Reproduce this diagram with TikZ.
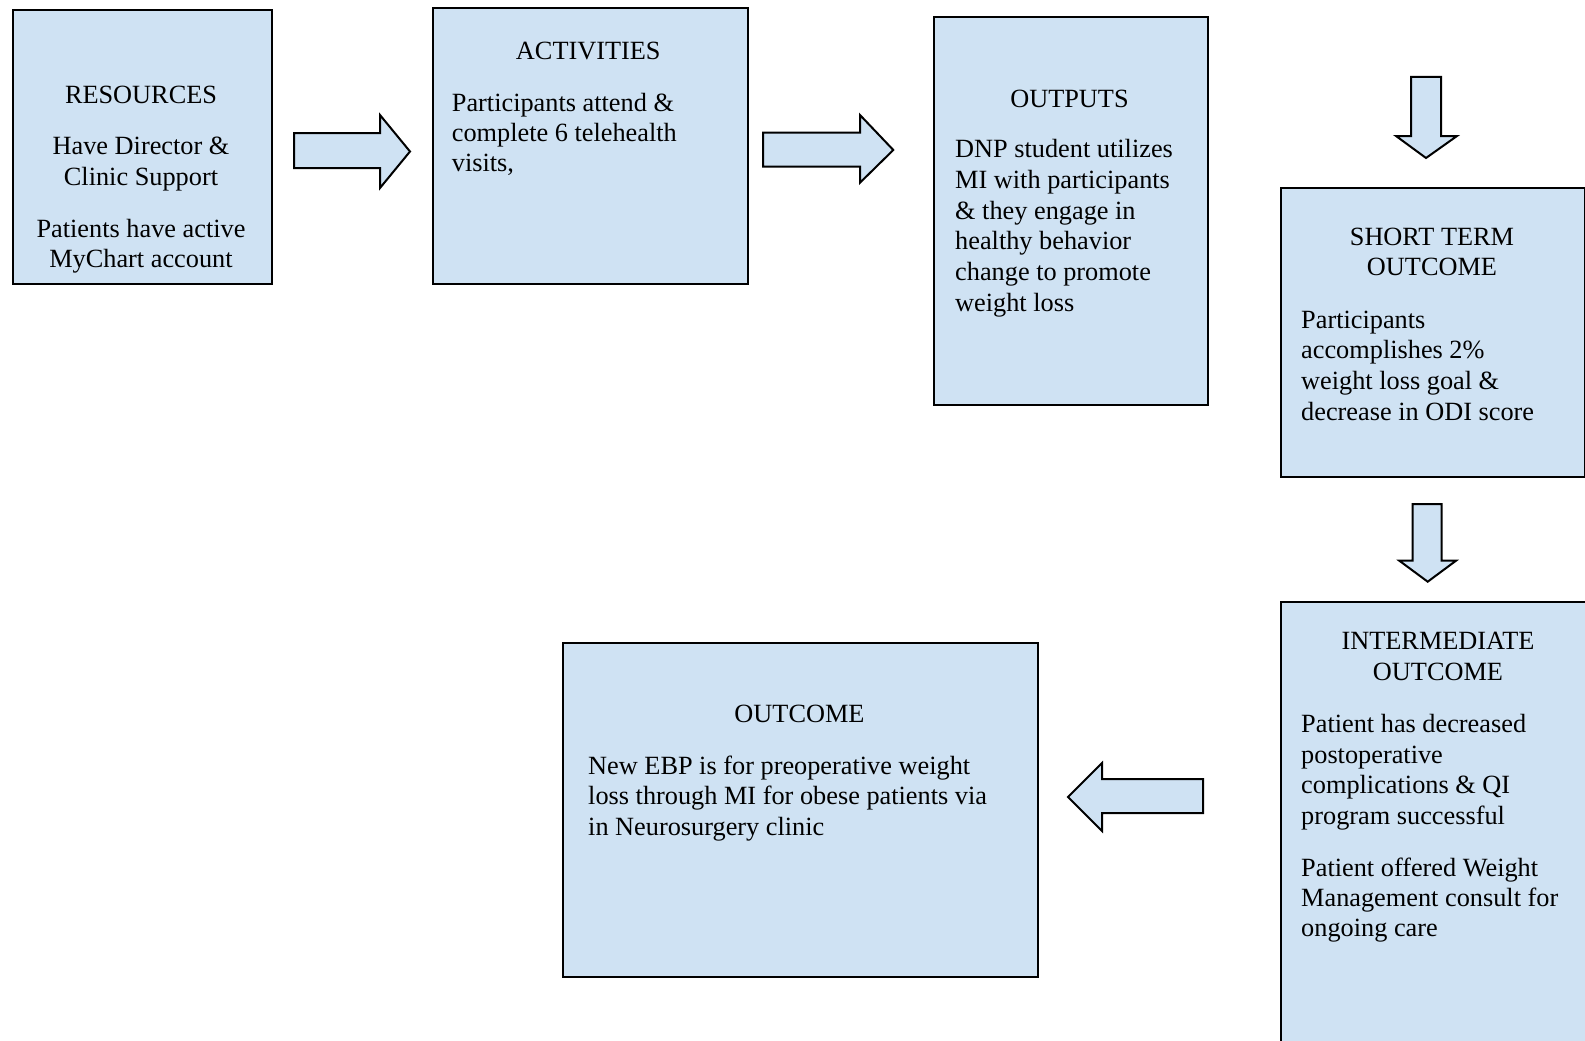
\documentclass[tikz,border=0pt]{standalone}
\usepackage{fontspec}
\setmainfont{Liberation Serif}
\definecolor{boxblue}{RGB}{207,226,243}
\tikzset{
  box/.style={draw=black, line width=2pt, fill=boxblue, inner sep=0pt, anchor=north west},
  blockarrow/.style={draw=black, line width=2pt, fill=boxblue, line join=miter},
  ttl/.style={anchor=base, inner sep=0pt, yshift=-1.2pt, font=\fontsize{26.3}{30.5}\selectfont},
  ln/.style={anchor=base west, inner sep=0pt, yshift=-1.2pt, font=\fontsize{26.3}{30.5}\selectfont},
}
\begin{document}
\begin{tikzpicture}[x=1pt, y=-1pt]
\useasboundingbox (0,0) rectangle (1585,1041);
\clip (0,0) rectangle (1585,1041);

% boxes
\node[box, minimum width=259pt, minimum height=274pt] (res) at (12,9) {};
\node[box, minimum width=315pt, minimum height=275pt] (act) at (431.5,7.5) {};
\node[box, minimum width=274pt, minimum height=388pt] (out) at (933,16) {};
\node[box, minimum width=304pt, minimum height=289pt] (st) at (1280,187) {};
\node[box, minimum width=320pt, minimum height=460pt] (im) at (1280,601) {};
\node[box, minimum width=475pt, minimum height=334pt] (oc) at (562,642) {};

% block arrows
\draw[blockarrow] (294,133) -- (380,133) -- (380,115) -- (410,151.5) -- (380,188) -- (380,168) -- (294,168) -- cycle;
\draw[blockarrow] (763,132.7) -- (860,132.7) -- (860,115) -- (893.3,150) -- (860,182.7) -- (860,166.7) -- (763,166.7) -- cycle;
\draw[blockarrow] (1411,77) -- (1441,77) -- (1441,136) -- (1457,136) -- (1426,158) -- (1396,136) -- (1411,136) -- cycle;
\draw[blockarrow] (1412.7,504) -- (1441.7,504) -- (1441.7,560.7) -- (1456,560.7) -- (1427.7,581.7) -- (1399.3,560.7) -- (1412.7,560.7) -- cycle;
\draw[blockarrow] (1203,779) -- (1102,779) -- (1102,763) -- (1068,797) -- (1102,831) -- (1102,813) -- (1203,813) -- cycle;

% RESOURCES
\node[ttl] (r1) at (141,102) {RESOURCES};
\node[ttl] (r2) at (141,153) {Have Director \&};
\node[ttl] (r3) at (141,184.3) {Clinic Support};
\node[ttl] (r4) at (141,236.7) {Patients have active};
\node[ttl] (r5) at (141,266.7) {MyChart account};

% ACTIVITIES
\node[ttl] (a1) at (588.3,58) {ACTIVITIES};
\node[ln] (a2) at (451.7,110) {Participants attend \&};
\node[ln] (a3) at (451.7,140.3) {complete 6 telehealth};
\node[ln] (a4) at (451.7,170.6) {visits,};

% OUTPUTS
\node[ttl] (o1) at (1069.5,106) {OUTPUTS};
\node[ln] (o2) at (955,156.7) {DNP student utilizes};
\node[ln] (o3) at (955,187.4) {MI with participants};
\node[ln] (o4) at (955,218) {\& they engage in};
\node[ln] (o5) at (955,248.7) {healthy behavior};
\node[ln] (o6) at (955,279.4) {change to promote};
\node[ln] (o7) at (955,310) {weight loss};

% SHORT TERM OUTCOME
\node[ttl] (s1) at (1432,244) {SHORT TERM};
\node[ttl] (s2) at (1432,274) {OUTCOME};
\node[ln] (s3) at (1301,327) {Participants};
\node[ln] (s4) at (1301,357.6) {accomplishes 2\%};
\node[ln] (s5) at (1301,388.2) {weight loss goal \&};
\node[ln] (s6) at (1301,418.8) {decrease in ODI score};

% INTERMEDIATE OUTCOME
\node[ttl] (i1) at (1438,648.3) {INTERMEDIATE};
\node[ttl] (i2) at (1438,679.3) {OUTCOME};
\node[ln] (i3) at (1301,731.7) {Patient has decreased};
\node[ln] (i4) at (1301,762.2) {postoperative};
\node[ln] (i5) at (1301,792.7) {complications \& QI};
\node[ln] (i6) at (1301,822.9) {program successful};
\node[ln] (i7) at (1301,875) {Patient offered Weight};
\node[ln] (i8) at (1301,905) {Management consult for};
\node[ln] (i9) at (1301,935) {ongoing care};

% OUTCOME
\node[ttl] (c1) at (799.5,721.7) {OUTCOME};
\node[ln] (c2) at (588,773) {New EBP is for preoperative weight};
\node[ln] (c3) at (588,803.7) {loss through MI for obese patients via};
\node[ln] (c4) at (588,834) {in Neurosurgery clinic};
\end{tikzpicture}
\end{document}
